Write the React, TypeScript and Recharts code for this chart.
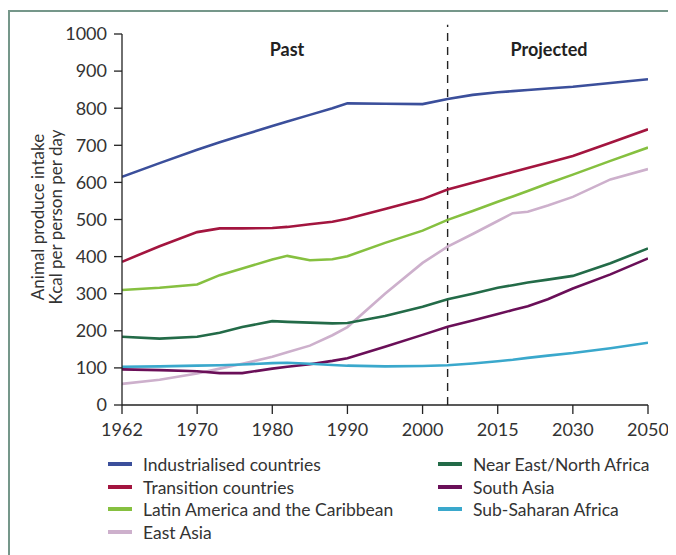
import React from "react";
import { LineChart, Line, XAxis, YAxis, ReferenceLine } from "recharts";

const years = [1962, 1966, 1970, 1973, 1976, 1980, 1982, 1985, 1988, 1990, 1995, 2000, 2005, 2010, 2015, 2018, 2021, 2025, 2030, 2040, 2050];
const industrialised = [615, 652, 688, 708, 727, 752, 764, 782, 800, 813, 812, 811, 825, 836, 843, 846, 849, 853, 858, 868, 878];
const transition = [386, 428, 466, 476, 476, 477, 480, 487, 494, 502, 528, 555, 581, 599, 617, 628, 639, 653, 671, 707, 743];
const latinAmerica = [310, 316, 325, 350, 368, 392, 402, 390, 393, 401, 437, 470, 499, 523, 548, 562, 577, 597, 621, 658, 694];
const eastAsia = [57, 68, 85, 98, 111, 130, 142, 160, 188, 210, 300, 383, 427, 461, 496, 517, 521, 538, 561, 608, 636];
const nearEast = [184, 179, 184, 195, 210, 226, 224, 222, 220, 221, 240, 265, 285, 300, 316, 323, 330, 338, 348, 382, 422];
const southAsia = [96, 94, 91, 86, 86, 98, 103, 110, 119, 126, 157, 189, 211, 228, 245, 256, 266, 285, 314, 352, 395];
const subSaharan = [103, 104, 106, 107, 109, 113, 114, 111, 108, 106, 104, 105, 107, 112, 118, 122, 127, 133, 140, 153, 168];

const tickYears = [1962, 1970, 1980, 1990, 2000, 2015, 2030, 2050];
const yTicks = [0, 100, 200, 300, 400, 500, 600, 700, 800, 900, 1000];
const dividerYear = 2005;

const seriesList = [
  { key: "industrialised", name: "Industrialised countries", color: "#3b4f9b", values: industrialised },
  { key: "transition", name: "Transition countries", color: "#a3153f", values: transition },
  { key: "latinAmerica", name: "Latin America and the Caribbean", color: "#86c040", values: latinAmerica },
  { key: "eastAsia", name: "East Asia", color: "#cdb0cc", values: eastAsia },
  { key: "nearEast", name: "Near East/North Africa", color: "#236b48", values: nearEast },
  { key: "southAsia", name: "South Asia", color: "#6a0f58", values: southAsia },
  { key: "subSaharan", name: "Sub-Saharan Africa", color: "#3aa8cc", values: subSaharan },
];

// Piecewise axis: tick years are evenly spaced on the axis
function yearToPos(y: number): number {
  for (let i = 0; i < tickYears.length - 1; i++) {
    const a = tickYears[i];
    const b = tickYears[i + 1];
    if (y <= b) return i + (y - a) / (b - a);
  }
  return tickYears.length - 1;
}

const data = years.map((yr, i) => {
  const row: Record<string, number> = { pos: yearToPos(yr) };
  seriesList.forEach((s) => {
    row[s.key] = s.values[i];
  });
  return row;
});

const FONT = "Lato, 'Open Sans', sans-serif";
const TEXT = "#333";

const legendLeft = [seriesList[0], seriesList[1], seriesList[2], seriesList[3]];
const legendRight = [seriesList[4], seriesList[5], seriesList[6]];
const rowTops = [456, 479, 501, 524];

export default function App() {
  const divX = yearToPos(dividerYear);
  return (
    <div style={{ position: "relative", width: 668, height: 547, overflow: "hidden", fontFamily: FONT, background: "#fff" }}>
      <div
        style={{
          position: "absolute",
          left: 0,
          top: 2,
          width: 700,
          height: 600,
          border: "2px solid #75978a",
          boxSizing: "border-box",
        }}
      />
      <div style={{ position: "absolute", left: 0, top: 0 }}>
        <LineChart width={668} height={460} data={data} margin={{ top: 26, right: 28, bottom: 33, left: 54 }}>
          <XAxis
            type="number"
            dataKey="pos"
            domain={[0, tickYears.length - 1]}
            ticks={tickYears.map((_, i) => i)}
            tickFormatter={(v: number) => String(tickYears[Math.round(v)])}
            interval={0}
            height={30}
            tickSize={9}
            tickMargin={9}
            stroke="#222"
            strokeWidth={1.3}
            tick={{ fill: TEXT, fontSize: 18, fontFamily: FONT }}
            allowDataOverflow
          />
          <YAxis
            type="number"
            domain={[0, 1000]}
            ticks={yTicks}
            interval={0}
            width={60}
            tickSize={8}
            tickMargin={7}
            stroke="#222"
            strokeWidth={1.3}
            tick={{ fill: TEXT, fontSize: 18, fontFamily: FONT }}
          />
          <ReferenceLine
            segment={[
              { x: divX, y: 0 },
              { x: divX, y: 1025 },
            ]}
            stroke="#222"
            strokeWidth={1.4}
            strokeDasharray="8 6"
            ifOverflow="visible"
          />
          {seriesList.map((s) => (
            <Line
              key={s.key}
              type="linear"
              dataKey={s.key}
              name={s.name}
              stroke={s.color}
              strokeWidth={2.6}
              dot={false}
              activeDot={false}
              isAnimationActive={false}
            />
          ))}
        </LineChart>
      </div>

      <div
        style={{
          position: "absolute",
          left: 39,
          top: 210,
          width: 0,
          height: 0,
        }}
      >
        <div
          style={{
            position: "absolute",
            width: 280,
            left: -140,
            top: -19,
            transform: "rotate(-90deg)",
            textAlign: "center",
            fontSize: 17,
            lineHeight: "18px",
            color: TEXT,
          }}
        >
          <div>Animal produce intake</div>
          <div>Kcal per person per day</div>
        </div>
      </div>

      <div style={{ position: "absolute", left: 229, top: 30, width: 100, textAlign: "center", fontWeight: 700, fontSize: 18, color: "#222" }}>
        Past
      </div>
      <div style={{ position: "absolute", left: 481, top: 30, width: 120, textAlign: "center", fontWeight: 700, fontSize: 18, color: "#222" }}>
        Projected
      </div>

      {legendLeft.map((s, i) => (
        <div key={s.key} style={{ position: "absolute", left: 100, top: rowTops[i] - 11, height: 22, display: "flex", alignItems: "center" }}>
          <div style={{ width: 24, height: 4, background: s.color, marginRight: 11 }} />
          <span style={{ fontSize: 17.5, color: TEXT, whiteSpace: "nowrap" }}>{s.name}</span>
        </div>
      ))}
      {legendRight.map((s, i) => (
        <div key={s.key} style={{ position: "absolute", left: 430, top: rowTops[i] - 11, height: 22, display: "flex", alignItems: "center" }}>
          <div style={{ width: 24, height: 4, background: s.color, marginRight: 11 }} />
          <span style={{ fontSize: 17.5, color: TEXT, whiteSpace: "nowrap" }}>{s.name}</span>
        </div>
      ))}
    </div>
  );
}
